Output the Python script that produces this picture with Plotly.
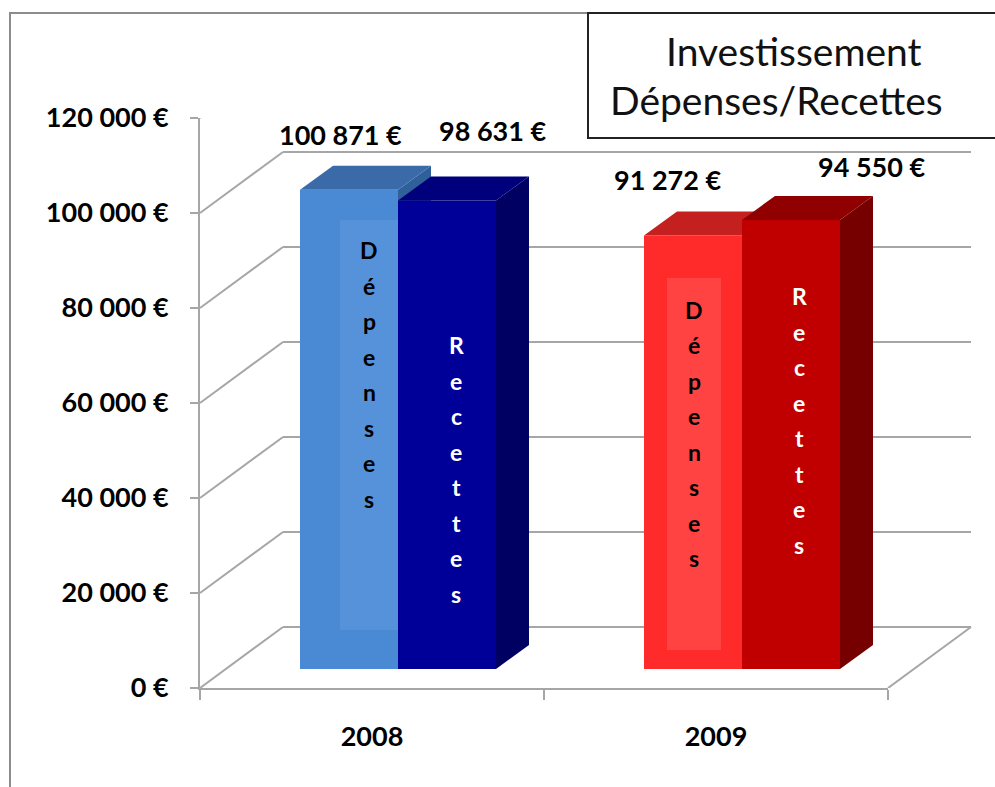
import plotly.graph_objects as go

# ---------------- data ----------------
years = ["2008", "2009"]
depenses = [100871, 91272]
recettes = [98631, 94550]
y_tickvals = [0, 20000, 40000, 60000, 80000, 100000, 120000]
y_ticktext = ["0 €", "20 000 €", "40 000 €", "60 000 €", "80 000 €", "100 000 €", "120 000 €"]
title_lines = ["Investissement", "Dépenses/Recettes"]
dep_word = "Dépenses"
rec_word = "Recettes"


def euro(v):
    return f"{v:,}".replace(",", " ") + " €"


# ---------------- style ----------------
W, H = 995, 787
FONT = "Lato"
GRID = "#A6A6A6"

dep_front = ["#4A89D4", "#FF2A2A"]
dep_top = ["#3A6BA8", "#C42020"]
dep_side = ["#30609A", "#A01212"]
dep_inner = ["#5592DA", "#FF4242"]
rec_front = ["#000099", "#C00000"]
rec_top = ["#00007C", "#900000"]
rec_side = ["#000062", "#760000"]

# geometry (pixels)
FRONT_L, FRONT_R = 200, 888
FRONT_BOT, FRONT_TOP = 688, 118
WALL_DX, WALL_DY = 83, 61
PLANE_DX, PLANE_DY = 26, 19
BOX_DX, BOX_DY = 33, 24
BAR_PX = 98
YMAX = 120000

py_per_unit = (FRONT_BOT - FRONT_TOP) / YMAX
cat_px = (FRONT_R - FRONT_L) / len(years)
bar_w = BAR_PX / cat_px
dx_u = BOX_DX / cat_px
dy_u = BOX_DY / py_per_unit
wall_dy_u = WALL_DY / py_per_unit


def fx(p):
    return p / W


def fy(p):
    return 1 - p / H


# label placement styles (pixel shifts)
dep_lbl_shift = [(-9, 31), (-26, 32)]
rec_lbl_shift = [(45, 46), (80, 29)]
letter_step = 35.5
dep_letter_start = [88200, 75600]
rec_letter_start = [68200, 78500]
dep_letter_dx = [20, 1]
rec_letter_dx = [9, 8]
dep_inner_box = [(-29, 29, -380, 30), (-27, 27, -340, 32)]

fig = go.Figure()

# front axis helper trace (categories)
fig.add_trace(go.Scatter(x=years, y=[0, 0], mode="markers", marker=dict(opacity=0),
                         hoverinfo="skip", showlegend=False, xaxis="x", yaxis="y"))

# Dépenses bars (base bar subplot)
dep_x = [i - bar_w / 2 for i in range(len(years))]
rec_x = [i + bar_w / 2 for i in range(len(years))]
fig.add_trace(go.Bar(x=dep_x, y=depenses, width=bar_w, marker=dict(color=dep_front, line=dict(width=0)),
                     showlegend=False, hoverinfo="skip", xaxis="x2", yaxis="y2"))
for i, v in enumerate(depenses):
    xl, xr = dep_x[i] - bar_w / 2, dep_x[i] + bar_w / 2
    fig.add_trace(go.Scatter(x=[xr, xr + dx_u, xr + dx_u, xr, xr], y=[0, dy_u, v + dy_u, v, 0],
                             fill="toself", fillcolor=dep_side[i], mode="lines", line=dict(width=0),
                             hoverinfo="skip", showlegend=False, xaxis="x2", yaxis="y2"))
    fig.add_trace(go.Scatter(x=[xl, xl + dx_u, xr + dx_u, xr, xl], y=[v, v + dy_u, v + dy_u, v, v],
                             fill="toself", fillcolor=dep_top[i], mode="lines", line=dict(width=0),
                             hoverinfo="skip", showlegend=False, xaxis="x2", yaxis="y2"))

# Recettes bars (overlay subplot drawn above)
fig.add_trace(go.Bar(x=rec_x, y=recettes, width=bar_w, marker=dict(color=rec_front, line=dict(width=0)),
                     showlegend=False, hoverinfo="skip", xaxis="x3", yaxis="y3"))
for i, v in enumerate(recettes):
    xl, xr = rec_x[i] - bar_w / 2, rec_x[i] + bar_w / 2
    fig.add_trace(go.Scatter(x=[xr, xr + dx_u, xr + dx_u, xr, xr], y=[0, dy_u, v + dy_u, v, 0],
                             fill="toself", fillcolor=rec_side[i], mode="lines", line=dict(width=0),
                             hoverinfo="skip", showlegend=False, xaxis="x3", yaxis="y3"))
    fig.add_trace(go.Scatter(x=[xl, xl + dx_u, xr + dx_u, xr, xl], y=[v, v + dy_u, v + dy_u, v, v],
                             fill="toself", fillcolor=rec_top[i], mode="lines", line=dict(width=0),
                             hoverinfo="skip", showlegend=False, xaxis="x3", yaxis="y3"))

shapes = []
# outer frame
shapes.append(dict(type="rect", xref="paper", yref="paper", x0=fx(10), x1=1.2, y0=-0.2, y1=fy(13),
                   line=dict(color="#8C8C8C", width=2), fillcolor="rgba(0,0,0,0)", layer="below"))
# back wall gridlines and side wall diagonals (on the front value scale)
for v in y_tickvals:
    shapes.append(dict(type="line", xref="paper", yref="y", x0=fx(FRONT_L + WALL_DX),
                       x1=fx(FRONT_R + WALL_DX), y0=v + wall_dy_u, y1=v + wall_dy_u,
                       line=dict(color=GRID, width=2), layer="below"))
    shapes.append(dict(type="line", xref="paper", yref="y", x0=fx(FRONT_L), x1=fx(FRONT_L + WALL_DX),
                       y0=v, y1=v + wall_dy_u, line=dict(color=GRID, width=2), layer="below"))
# floor right diagonal
shapes.append(dict(type="line", xref="paper", yref="y", x0=fx(FRONT_R), x1=fx(FRONT_R + WALL_DX),
                   y0=0, y1=wall_dy_u, line=dict(color=GRID, width=2), layer="below"))
# inner text boxes on Dépenses bars
for i in range(len(years)):
    a, b, c, d = dep_inner_box[i]
    shapes.append(dict(type="rect", xref="x2", yref="y2", xsizemode="pixel", ysizemode="pixel",
                       xanchor=dep_x[i], yanchor=dep_letter_start[i],
                       x0=dep_letter_dx[i] + a, x1=dep_letter_dx[i] + b, y0=c, y1=d,
                       fillcolor=dep_inner[i], line=dict(width=0), layer="above"))
# title box
shapes.append(dict(type="rect", xref="paper", yref="paper", x0=fx(588), x1=1.05, y0=fy(138), y1=fy(13),
                   line=dict(color="#222222", width=2), fillcolor="white", layer="above"))

annotations = []
for i, v in enumerate(depenses):
    annotations.append(dict(x=dep_x[i], y=v + dy_u, xref="x2", yref="y2", text=euro(v), showarrow=False,
                            xanchor="center", yanchor="middle",
                            xshift=dep_lbl_shift[i][0], yshift=dep_lbl_shift[i][1],
                            font=dict(family=FONT, size=27, color="black", weight="bold")))
for i, v in enumerate(recettes):
    annotations.append(dict(x=rec_x[i], y=v + dy_u, xref="x2", yref="y2", text=euro(v), showarrow=False,
                            xanchor="center", yanchor="middle",
                            xshift=rec_lbl_shift[i][0], yshift=rec_lbl_shift[i][1],
                            font=dict(family=FONT, size=27, color="black", weight="bold")))
for i in range(len(years)):
    for k, ch in enumerate(dep_word):
        annotations.append(dict(x=dep_x[i], y=dep_letter_start[i], xref="x2", yref="y2", text=ch,
                                showarrow=False, xanchor="center", yanchor="middle",
                                xshift=dep_letter_dx[i], yshift=-k * letter_step,
                                font=dict(family=FONT, size=23, color="black", weight="bold")))
    for k, ch in enumerate(rec_word):
        annotations.append(dict(x=rec_x[i], y=rec_letter_start[i], xref="x2", yref="y2", text=ch,
                                showarrow=False, xanchor="center", yanchor="middle",
                                xshift=rec_letter_dx[i], yshift=-k * letter_step,
                                font=dict(family=FONT, size=23, color="white", weight="bold")))
annotations.append(dict(x=fx(794), y=fy(51), xref="paper", yref="paper", text=title_lines[0],
                        showarrow=False, xanchor="center", yanchor="middle",
                        font=dict(family=FONT, size=39, color="#111111")))
annotations.append(dict(x=fx(776), y=fy(100), xref="paper", yref="paper", text=title_lines[1],
                        showarrow=False, xanchor="center", yanchor="middle",
                        font=dict(family=FONT, size=39, color="#111111")))

fig.update_layout(
    width=W, height=H, autosize=False,
    margin=dict(l=0, r=0, t=0, b=0, pad=0, autoexpand=False),
    paper_bgcolor="white", plot_bgcolor="rgba(0,0,0,0)",
    barmode="overlay", showlegend=False, hovermode=False,
    xaxis=dict(domain=[fx(FRONT_L), fx(FRONT_R)], type="category", categoryorder="array",
               categoryarray=years, range=[-0.5, 1.5], anchor="y", showline=True, linecolor=GRID,
               linewidth=2, ticks="outside", tickson="boundaries", ticklen=10, tickwidth=2,
               tickcolor=GRID, showgrid=False, zeroline=False, ticklabelstandoff=24, automargin=False,
               tickfont=dict(family=FONT, size=27, color="black", weight="bold"), fixedrange=True),
    yaxis=dict(domain=[fy(FRONT_BOT), fy(FRONT_TOP)], range=[0, YMAX], anchor="x",
               tickvals=y_tickvals, ticktext=y_ticktext, showline=True, linecolor=GRID, linewidth=2,
               ticks="outside", ticklen=8, tickwidth=2, tickcolor=GRID, showgrid=False, zeroline=False,
               ticklabelstandoff=16, automargin=False,
               tickfont=dict(family=FONT, size=27, color="black", weight="bold"), fixedrange=True),
    xaxis2=dict(domain=[fx(FRONT_L + PLANE_DX), fx(FRONT_R + PLANE_DX)], range=[-0.5, 1.5],
                visible=False, anchor="y2", fixedrange=True, automargin=False),
    yaxis2=dict(domain=[fy(FRONT_BOT - PLANE_DY), fy(FRONT_TOP - PLANE_DY)], range=[0, YMAX],
                visible=False, anchor="x2", fixedrange=True, automargin=False),
    xaxis3=dict(overlaying="x2", range=[-0.5, 1.5], visible=False, anchor="y3", fixedrange=True,
                automargin=False),
    yaxis3=dict(overlaying="y2", range=[0, YMAX], visible=False, anchor="x3", fixedrange=True,
                automargin=False),
    shapes=shapes,
    annotations=annotations,
)

fig.write_html("out.html", config={"displayModeBar": False},
               post_script="document.body.style.margin='0';")
